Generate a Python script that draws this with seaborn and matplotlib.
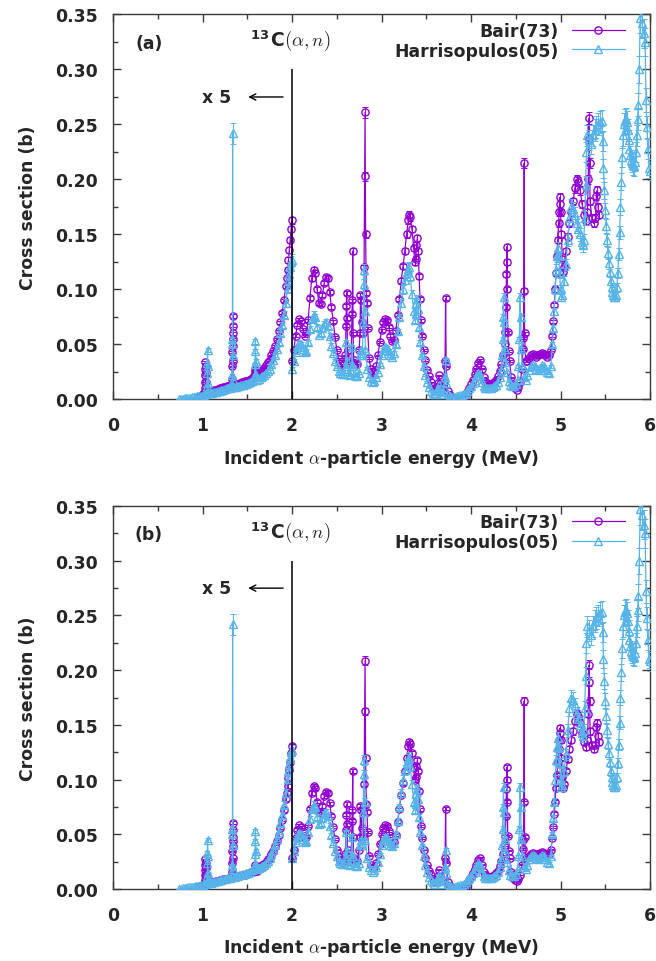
import numpy as np
import matplotlib
matplotlib.use("Agg")
import matplotlib.pyplot as plt
import seaborn as sns
from matplotlib.ticker import MultipleLocator, FormatStrFormatter

# ---------------- data ----------------
# Bair (1973): incident alpha energy (MeV) and cross section (b); below 2 MeV shown x5
bair_energy = [
    0.95, 0.97, 0.99, 1.01, 1.020, 1.026, 1.028, 1.030, 1.031, 1.032,
    1.033, 1.034, 1.036, 1.038, 1.040, 1.05, 1.07, 1.09, 1.11, 1.13,
    1.15, 1.17, 1.19, 1.21, 1.23, 1.25, 1.27, 1.29, 1.31, 1.325,
    1.330, 1.332, 1.334, 1.335, 1.336, 1.337, 1.338, 1.339, 1.341, 1.345,
    1.36, 1.38, 1.40, 1.42, 1.44, 1.46, 1.48, 1.50, 1.52, 1.54,
    1.56, 1.575, 1.585, 1.590, 1.593, 1.597, 1.61, 1.63, 1.65, 1.67,
    1.69, 1.71, 1.73, 1.75, 1.77, 1.79, 1.81, 1.83, 1.85, 1.87,
    1.89, 1.91, 1.93, 1.94, 1.95, 1.96, 1.97, 1.98, 1.99, 1.997,
    2.005, 2.02, 2.04, 2.06, 2.08, 2.10, 2.12, 2.14, 2.16, 2.18,
    2.20, 2.22, 2.24, 2.26, 2.28, 2.30, 2.32, 2.34, 2.36, 2.38,
    2.40, 2.42, 2.44, 2.46, 2.48, 2.50, 2.52, 2.54, 2.56, 2.58,
    2.595, 2.603, 2.607, 2.611, 2.615, 2.620, 2.64, 2.66, 2.670, 2.674,
    2.678, 2.682, 2.69, 2.71, 2.73, 2.75, 2.760, 2.765, 2.770, 2.780,
    2.795, 2.805, 2.812, 2.816, 2.822, 2.830, 2.838, 2.845, 2.86, 2.88,
    2.90, 2.92, 2.94, 2.96, 2.98, 3.00, 3.02, 3.04, 3.06, 3.08,
    3.10, 3.12, 3.14, 3.16, 3.18, 3.20, 3.22, 3.24, 3.26, 3.28,
    3.30, 3.31, 3.32, 3.34, 3.36, 3.37, 3.38, 3.39, 3.40, 3.41,
    3.42, 3.43, 3.44, 3.45, 3.47, 3.49, 3.51, 3.53, 3.55, 3.57,
    3.59, 3.61, 3.63, 3.642, 3.65, 3.67, 3.69, 3.710, 3.716, 3.722,
    3.74, 3.76, 3.78, 3.80, 3.82, 3.84, 3.86, 3.88, 3.90, 3.92,
    3.94, 3.96, 3.98, 4.00, 4.02, 4.04, 4.06, 4.08, 4.10, 4.12,
    4.14, 4.16, 4.18, 4.20, 4.22, 4.24, 4.26, 4.28, 4.30, 4.32,
    4.34, 4.36, 4.375, 4.385, 4.390, 4.395, 4.398, 4.402, 4.406, 4.41,
    4.42, 4.43, 4.45, 4.47, 4.49, 4.51, 4.53, 4.55, 4.57, 4.580,
    4.585, 4.590, 4.594, 4.598, 4.61, 4.63, 4.65, 4.67, 4.69, 4.71,
    4.73, 4.75, 4.77, 4.79, 4.81, 4.83, 4.85, 4.87, 4.89, 4.91,
    4.92, 4.93, 4.94, 4.95, 4.96, 4.97, 4.98, 4.985, 4.990, 4.995,
    5.00, 5.01, 5.02, 5.03, 5.04, 5.06, 5.08, 5.10, 5.12, 5.14,
    5.16, 5.18, 5.20, 5.22, 5.24, 5.26, 5.28, 5.30, 5.310, 5.315,
    5.320, 5.325, 5.33, 5.35, 5.37, 5.39, 5.40, 5.41, 5.42, 5.425,
]
bair_xs = [
    0.002, 0.003, 0.004, 0.005, 0.006, 0.007, 0.010, 0.016, 0.022, 0.028,
    0.034, 0.030, 0.024, 0.016, 0.009, 0.007, 0.007, 0.0075, 0.008, 0.0085,
    0.009, 0.0095, 0.010, 0.0105, 0.011, 0.0115, 0.012, 0.012, 0.0125, 0.013,
    0.019, 0.030, 0.043, 0.049, 0.055, 0.067, 0.076, 0.060, 0.035, 0.016,
    0.0135, 0.014, 0.0145, 0.015, 0.0155, 0.016, 0.0165, 0.017, 0.018, 0.019,
    0.020, 0.021, 0.024, 0.027, 0.024, 0.021, 0.021, 0.023, 0.025, 0.027,
    0.029, 0.031, 0.034, 0.036, 0.040, 0.044, 0.049, 0.055, 0.062, 0.070,
    0.079, 0.090, 0.103, 0.110, 0.118, 0.127, 0.136, 0.145, 0.155, 0.163,
    0.035, 0.045, 0.058, 0.068, 0.073, 0.071, 0.064, 0.058, 0.060, 0.072,
    0.092, 0.110, 0.118, 0.115, 0.100, 0.088, 0.087, 0.095, 0.106, 0.111,
    0.110, 0.098, 0.084, 0.071, 0.057, 0.045, 0.037, 0.033, 0.031, 0.032,
    0.040, 0.067, 0.085, 0.097, 0.074, 0.045, 0.033, 0.034, 0.078, 0.090,
    0.135, 0.060, 0.036, 0.033, 0.032, 0.045, 0.060, 0.095, 0.090, 0.070,
    0.060, 0.120, 0.203, 0.261, 0.150, 0.097, 0.088, 0.065, 0.038, 0.028,
    0.024, 0.025, 0.030, 0.040, 0.052, 0.063, 0.070, 0.073, 0.072, 0.066,
    0.058, 0.053, 0.054, 0.062, 0.077, 0.091, 0.108, 0.121, 0.135, 0.150,
    0.163, 0.168, 0.166, 0.155, 0.138, 0.125, 0.128, 0.140, 0.147, 0.135,
    0.112, 0.091, 0.072, 0.058, 0.045, 0.036, 0.027, 0.021, 0.016, 0.012,
    0.009, 0.010, 0.015, 0.022, 0.014, 0.009, 0.010, 0.035, 0.092, 0.030,
    0.008, 0.004, 0.002, 0.001, 0.000, 0.000, 0.000, 0.000, 0.001, 0.002,
    0.004, 0.007, 0.010, 0.014, 0.018, 0.023, 0.028, 0.033, 0.036, 0.028,
    0.020, 0.016, 0.015, 0.014, 0.014, 0.015, 0.016, 0.018, 0.021, 0.026,
    0.032, 0.040, 0.050, 0.061, 0.084, 0.114, 0.125, 0.139, 0.100, 0.061,
    0.044, 0.035, 0.020, 0.013, 0.010, 0.009, 0.011, 0.016, 0.028, 0.046,
    0.056, 0.099, 0.215, 0.060, 0.035, 0.035, 0.038, 0.040, 0.041, 0.040,
    0.039, 0.040, 0.041, 0.042, 0.041, 0.040, 0.039, 0.040, 0.045, 0.058,
    0.071, 0.086, 0.100, 0.115, 0.130, 0.145, 0.160, 0.170, 0.178, 0.184,
    0.170, 0.150, 0.128, 0.116, 0.120, 0.135, 0.148, 0.160, 0.170, 0.180,
    0.192, 0.200, 0.198, 0.190, 0.178, 0.168, 0.162, 0.170, 0.200, 0.237,
    0.256, 0.215, 0.180, 0.165, 0.160, 0.165, 0.185, 0.190, 0.175, 0.168,
]

# Harrisopulos (2005)
harr_energy = [
    0.74, 0.76, 0.78, 0.80, 0.82, 0.84, 0.86, 0.88, 0.90, 0.92,
    0.94, 0.96, 0.98, 1.00, 1.02, 1.040, 1.050, 1.052, 1.054, 1.055,
    1.056, 1.058, 1.060, 1.07, 1.09, 1.11, 1.13, 1.15, 1.17, 1.19,
    1.21, 1.23, 1.25, 1.27, 1.29, 1.31, 1.325, 1.331, 1.333, 1.334,
    1.336, 1.338, 1.341, 1.35, 1.37, 1.39, 1.41, 1.43, 1.45, 1.47,
    1.49, 1.51, 1.53, 1.55, 1.57, 1.582, 1.586, 1.589, 1.591, 1.594,
    1.598, 1.61, 1.63, 1.65, 1.67, 1.69, 1.71, 1.73, 1.75, 1.77,
    1.79, 1.81, 1.83, 1.85, 1.87, 1.89, 1.91, 1.93, 1.95, 1.96,
    1.97, 1.98, 1.99, 1.997, 2.005, 2.02, 2.04, 2.06, 2.08, 2.10,
    2.12, 2.14, 2.16, 2.18, 2.20, 2.22, 2.24, 2.26, 2.28, 2.30,
    2.32, 2.34, 2.36, 2.38, 2.40, 2.42, 2.44, 2.46, 2.48, 2.50,
    2.52, 2.54, 2.56, 2.58, 2.600, 2.606, 2.612, 2.63, 2.65, 2.665,
    2.672, 2.680, 2.69, 2.71, 2.73, 2.75, 2.765, 2.775, 2.785, 2.795,
    2.800, 2.805, 2.812, 2.82, 2.84, 2.86, 2.88, 2.90, 2.92, 2.94,
    2.96, 2.98, 3.00, 3.02, 3.04, 3.06, 3.08, 3.10, 3.12, 3.14,
    3.16, 3.18, 3.20, 3.22, 3.24, 3.26, 3.28, 3.30, 3.31, 3.32,
    3.34, 3.36, 3.37, 3.38, 3.39, 3.40, 3.41, 3.42, 3.43, 3.45,
    3.47, 3.49, 3.51, 3.53, 3.55, 3.57, 3.59, 3.61, 3.63, 3.642,
    3.65, 3.67, 3.69, 3.710, 3.716, 3.722, 3.74, 3.76, 3.78, 3.80,
    3.82, 3.84, 3.86, 3.88, 3.90, 3.92, 3.94, 3.96, 3.98, 4.00,
    4.02, 4.04, 4.06, 4.08, 4.10, 4.12, 4.14, 4.16, 4.18, 4.20,
    4.22, 4.24, 4.26, 4.28, 4.30, 4.32, 4.335, 4.345, 4.352, 4.358,
    4.363, 4.368, 4.375, 4.385, 4.40, 4.42, 4.44, 4.46, 4.48, 4.50,
    4.52, 4.53, 4.540, 4.548, 4.555, 4.562, 4.572, 4.59, 4.61, 4.63,
    4.65, 4.67, 4.69, 4.71, 4.73, 4.75, 4.77, 4.79, 4.81, 4.83,
    4.85, 4.87, 4.89, 4.91, 4.92, 4.93, 4.94, 4.95, 4.96, 4.97,
    4.98, 4.99, 5.00, 5.01, 5.02, 5.04, 5.06, 5.08, 5.10, 5.12,
    5.14, 5.16, 5.18, 5.20, 5.22, 5.24, 5.25, 5.26, 5.27, 5.28,
    5.29, 5.30, 5.32, 5.34, 5.36, 5.38, 5.40, 5.42, 5.44, 5.46,
    5.47, 5.48, 5.49, 5.50, 5.51, 5.52, 5.53, 5.54, 5.55, 5.56,
    5.57, 5.58, 5.59, 5.60, 5.61, 5.62, 5.63, 5.64, 5.65, 5.66,
    5.67, 5.68, 5.69, 5.70, 5.71, 5.72, 5.73, 5.74, 5.75, 5.76,
    5.77, 5.78, 5.79, 5.80, 5.81, 5.82, 5.83, 5.84, 5.85, 5.86,
    5.87, 5.88, 5.89, 5.91, 5.93, 5.945, 5.955, 5.965, 5.975, 5.99,
    6.00,
]
harr_xs = [
    0.000, 0.0003, 0.0006, 0.001, 0.001, 0.0015, 0.0015, 0.002, 0.002, 0.0025,
    0.003, 0.003, 0.0035, 0.004, 0.0045, 0.005, 0.007, 0.012, 0.024, 0.033,
    0.045, 0.030, 0.015, 0.006, 0.0055, 0.006, 0.0065, 0.007, 0.0075, 0.008,
    0.0085, 0.009, 0.0095, 0.010, 0.010, 0.0105, 0.011, 0.022, 0.050, 0.055,
    0.242, 0.040, 0.018, 0.011, 0.0115, 0.012, 0.0125, 0.013, 0.0135, 0.014,
    0.0145, 0.015, 0.016, 0.017, 0.018, 0.022, 0.032, 0.044, 0.053, 0.035,
    0.022, 0.018, 0.019, 0.020, 0.021, 0.022, 0.024, 0.026, 0.028, 0.032,
    0.036, 0.040, 0.046, 0.052, 0.060, 0.068, 0.077, 0.088, 0.101, 0.108,
    0.114, 0.120, 0.125, 0.127, 0.028, 0.035, 0.043, 0.048, 0.051, 0.050,
    0.046, 0.043, 0.044, 0.052, 0.064, 0.073, 0.077, 0.075, 0.066, 0.059,
    0.060, 0.065, 0.069, 0.070, 0.067, 0.058, 0.049, 0.042, 0.035, 0.030,
    0.026, 0.024, 0.023, 0.023, 0.030, 0.052, 0.035, 0.023, 0.022, 0.030,
    0.048, 0.030, 0.022, 0.021, 0.021, 0.024, 0.040, 0.045, 0.040, 0.070,
    0.105, 0.118, 0.080, 0.045, 0.028, 0.020, 0.017, 0.016, 0.017, 0.020,
    0.025, 0.032, 0.040, 0.045, 0.048, 0.047, 0.044, 0.040, 0.039, 0.042,
    0.050, 0.062, 0.075, 0.088, 0.100, 0.109, 0.115, 0.119, 0.120, 0.112,
    0.096, 0.080, 0.072, 0.078, 0.088, 0.091, 0.082, 0.066, 0.052, 0.040,
    0.030, 0.022, 0.016, 0.011, 0.008, 0.006, 0.005, 0.006, 0.009, 0.013,
    0.008, 0.005, 0.007, 0.020, 0.036, 0.015, 0.005, 0.003, 0.002, 0.002,
    0.002, 0.003, 0.003, 0.004, 0.004, 0.005, 0.006, 0.008, 0.010, 0.012,
    0.015, 0.018, 0.021, 0.024, 0.022, 0.016, 0.012, 0.010, 0.010, 0.010,
    0.010, 0.011, 0.012, 0.013, 0.016, 0.020, 0.027, 0.040, 0.055, 0.075,
    0.093, 0.070, 0.046, 0.034, 0.025, 0.017, 0.013, 0.012, 0.012, 0.014,
    0.018, 0.030, 0.055, 0.093, 0.075, 0.046, 0.030, 0.020, 0.018, 0.022,
    0.027, 0.030, 0.031, 0.030, 0.028, 0.027, 0.029, 0.031, 0.030, 0.027,
    0.025, 0.024, 0.030, 0.050, 0.065, 0.080, 0.100, 0.118, 0.130, 0.138,
    0.130, 0.115, 0.100, 0.093, 0.095, 0.108, 0.123, 0.145, 0.165, 0.175,
    0.173, 0.168, 0.160, 0.155, 0.150, 0.143, 0.140, 0.145, 0.165, 0.195,
    0.225, 0.240, 0.236, 0.232, 0.240, 0.245, 0.248, 0.250, 0.252, 0.253,
    0.235, 0.210, 0.190, 0.172, 0.158, 0.145, 0.133, 0.124, 0.116, 0.108,
    0.102, 0.098, 0.095, 0.093, 0.093, 0.095, 0.102, 0.115, 0.132, 0.152,
    0.175, 0.198, 0.220, 0.240, 0.250, 0.254, 0.255, 0.252, 0.245, 0.236,
    0.228, 0.222, 0.218, 0.215, 0.213, 0.212, 0.216, 0.225, 0.240, 0.255,
    0.268, 0.300, 0.347, 0.342, 0.333, 0.325, 0.272, 0.248, 0.228, 0.210,
    0.208,
]

series_labels = ["Bair(73)", "Harrisopulos(05)"]
panel_tags = ["(a)", "(b)"]
bair_scale = [1.0, 0.8]          # Bair data renormalised in panel (b)
bair_rel_err = 0.02
harr_rel_err = 0.04

x_ticks = [0, 1, 2, 3, 4, 5, 6]
y_ticks = [0.00, 0.05, 0.10, 0.15, 0.20, 0.25, 0.30, 0.35]

# ---------------- style ----------------
sns.set_style("ticks")
plt.rcParams["font.family"] = ["DejaVu Sans"]
plt.rcParams["font.weight"] = "bold"
plt.rcParams["axes.labelweight"] = "bold"
plt.rcParams["mathtext.fontset"] = "cm"

PURPLE = "#9400D3"
BLUE = "#56B4E9"
AXIS_COL = "#3a3a3a"
FS = 12.4

fig = plt.figure(figsize=(6.56, 9.62), dpi=100)
ax_a = fig.add_axes([0.1723, 0.5837, 0.8186, 0.4002])
ax_b = fig.add_axes([0.1723, 0.0748, 0.8186, 0.3981])

for ax, tag, scale in zip([ax_a, ax_b], panel_tags, bair_scale):
    by = np.asarray(bair_xs) * scale
    hy = np.asarray(harr_xs)

    ax.errorbar(bair_energy, by, yerr=by * bair_rel_err, fmt="none",
                ecolor=PURPLE, elinewidth=0.7, capsize=2.2, capthick=0.7,
                zorder=2)
    sns.lineplot(x=bair_energy, y=by, ax=ax, color=PURPLE, linewidth=0.9,
                 marker="o", markersize=5.2, markerfacecolor="none",
                 mec=PURPLE, mew=1.0, sort=False, estimator=None,
                 label=series_labels[0], zorder=3)

    ax.errorbar(harr_energy, hy, yerr=hy * harr_rel_err, fmt="none",
                ecolor=BLUE, elinewidth=0.7, capsize=2.4, capthick=0.7,
                zorder=4)
    sns.lineplot(x=harr_energy, y=hy, ax=ax, color=BLUE, linewidth=0.9,
                 marker="^", markersize=5.2, markerfacecolor="none",
                 mec=BLUE, mew=1.0, sort=False, estimator=None,
                 label=series_labels[1], zorder=5)

    # threshold marker at 2 MeV and the x5 scaling note
    ax.vlines(2.0, 0.0, 0.30, color="black", linewidth=1.1, zorder=6)
    ax.annotate("", xy=(1.51, 0.275), xytext=(1.90, 0.275),
                arrowprops=dict(arrowstyle="->", color="black", lw=1.0,
                                shrinkA=0, shrinkB=0, mutation_scale=11))
    ax.text(1.156, 0.275, "x 5", ha="center", va="center", fontsize=FS,
            fontweight="bold")
    ax.text(0.40, 0.3245, tag, ha="center", va="center", fontsize=FS,
            fontweight="bold")
    ax.text(1.98, 0.326, r"$^{\mathdefault{13}}\mathdefault{C}(\alpha,n)$",
            ha="center", va="center", fontsize=13.5, fontweight="bold")

    ax.set_xlim(0, 6)
    ax.set_ylim(0, 0.35)
    ax.set_xticks(x_ticks)
    ax.set_yticks(y_ticks)
    ax.xaxis.set_minor_locator(MultipleLocator(0.5))
    ax.yaxis.set_minor_locator(MultipleLocator(0.025))
    ax.yaxis.set_major_formatter(FormatStrFormatter("%.2f"))
    ax.tick_params(which="both", direction="in", top=True, right=True,
                   color=AXIS_COL, width=1.0, labelsize=FS)
    ax.tick_params(which="major", length=6)
    ax.tick_params(which="minor", length=3.5)
    ax.tick_params(axis="x", pad=12)
    ax.tick_params(axis="y", pad=11)
    for sp in ax.spines.values():
        sp.set_visible(True)
        sp.set_color(AXIS_COL)
        sp.set_linewidth(1.0)

    ax.set_xlabel(r"Incident $\alpha$-particle energy (MeV)", fontsize=FS,
                  fontweight="bold", labelpad=9)
    ax.set_ylabel("Cross section (b)", fontsize=FS, fontweight="bold",
                  labelpad=13)

    handles, labels = ax.get_legend_handles_labels()
    ax.legend(handles[:2], labels[:2], loc="upper right",
              bbox_to_anchor=(0.9534, 0.981), markerfirst=False,
              frameon=False, handlelength=3.1, handletextpad=0.75,
              labelspacing=0.1, borderaxespad=0, borderpad=0,
              prop={"weight": "bold", "size": FS})

fig.savefig("out.png", dpi=100)
